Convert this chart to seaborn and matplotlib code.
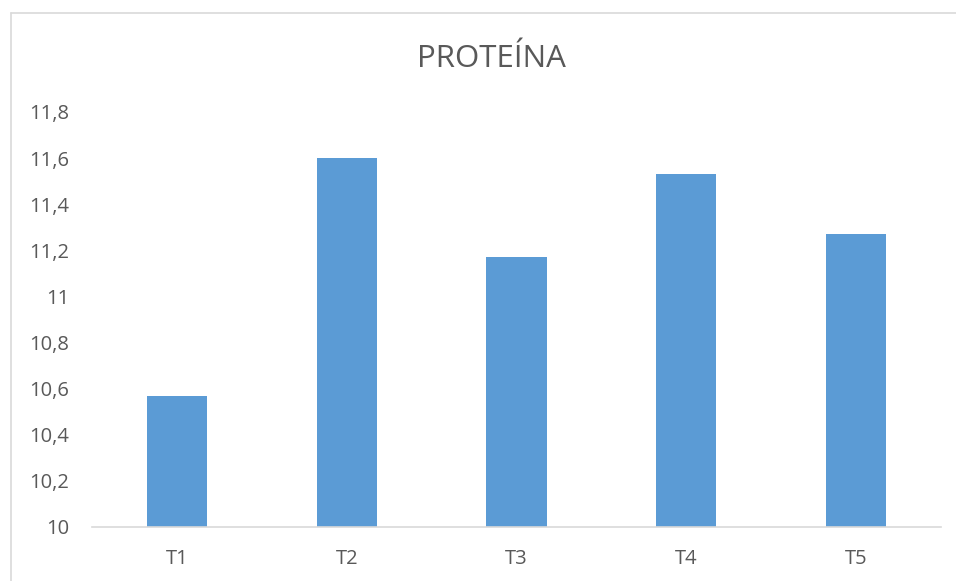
import matplotlib
matplotlib.use("Agg")
import matplotlib.pyplot as plt
import seaborn as sns
import pandas as pd
from matplotlib.ticker import FuncFormatter
from matplotlib.lines import Line2D

categories = ["T1", "T2", "T3", "T4", "T5"]
values = [10.57, 11.60, 11.17, 11.53, 11.27]
title = "PROTEÍNA"

sns.set_theme(style="white")
plt.rcParams['font.family'] = ['Open Sans', 'DejaVu Sans']

df = pd.DataFrame({"cat": categories, "val": values})

fig = plt.figure(figsize=(9.56, 5.81), dpi=100)
ax = fig.add_axes([92/956, (581-527)/581, (941-92)/956, (527-112)/581])

sns.barplot(data=df, x="cat", y="val", color="#5B9BD5", width=0.355,
            saturation=1, ax=ax, edgecolor="none")

ax.set_ylim(10, 11.8)
ax.set_yticks([10 + 0.2*i for i in range(10)])
ax.yaxis.set_major_formatter(FuncFormatter(
    lambda v, p: (f"{v:.1f}".rstrip("0").rstrip(".")).replace(".", ",")))
ax.set_xlabel("")
ax.set_ylabel("")
for s in ["top", "right", "left"]:
    ax.spines[s].set_visible(False)
ax.spines["bottom"].set_color("#D9D9D9")
ax.spines["bottom"].set_linewidth(1.2)
ax.tick_params(axis="both", length=0, colors="#595959", labelsize=14.5)
ax.tick_params(axis="y", pad=16.5)
ax.tick_params(axis="x", pad=16)

fig.text(491/956, 1 - 59/581, title, ha="center", va="center",
         fontsize=22.5, color="#595959")

# chart border (cropped on right/bottom)
fig.add_artist(Line2D([10.5/956, 10.5/956], [0, 1 - 12.5/581], color="#D9D9D9", lw=1.2))
fig.add_artist(Line2D([10.5/956, 1], [1 - 12.5/581, 1 - 12.5/581], color="#D9D9D9", lw=1.2))

fig.savefig("out.png", dpi=100)
